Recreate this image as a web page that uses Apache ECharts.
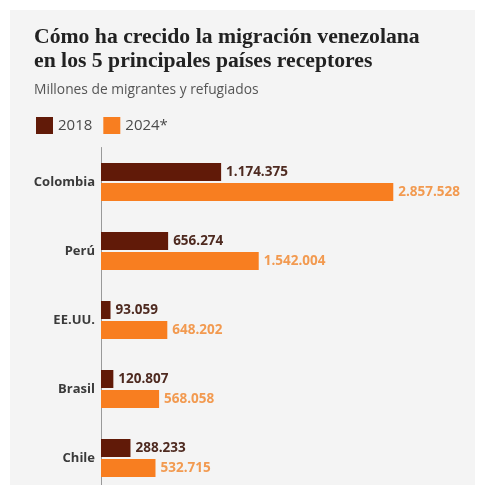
<!DOCTYPE html>
<html>
<head>
<meta charset="utf-8">
<script src="https://cdn.jsdelivr.net/npm/echarts@6/dist/echarts.min.js"></script>
<style>
html,body{margin:0;padding:0;background:#fff;}
#c{width:479px;height:485px;}
</style>
</head>
<body>
<div id="c"></div>
<script>
const categories = ['Colombia', 'Perú', 'EE.UU.', 'Brasil', 'Chile'];
const values2018 = [1174375, 656274, 93059, 120807, 288233];
const values2024 = [2857528, 1542004, 648202, 568058, 532715];
const seriesNames = ['2018', '2024*'];

function fmt(v) {
  return String(v).replace(/\B(?=(\d{3})+(?!\d))/g, '.');
}

const chart = echarts.init(document.getElementById('c'), null, {renderer: 'canvas'});
chart.setOption({
  backgroundColor: '#ffffff',
  animation: false,
  graphic: [{
    type: 'rect', z: -10, silent: true,
    shape: {x: 10, y: 10, width: 465, height: 480},
    style: {fill: '#f4f4f4'}
  }],
  title: [{
    text: 'Cómo ha crecido la migración venezolana\nen los 5 principales países receptores',
    left: 34, top: 26, padding: 0,
    textStyle: {fontFamily: 'Liberation Serif', fontWeight: 'bold', fontSize: 21.7, lineHeight: 23.5, color: '#222'}
  }, {
    text: 'Millones de migrantes y refugiados',
    left: 34, top: 83, padding: 0,
    textStyle: {fontFamily: 'Open Sans', fontWeight: 'normal', fontSize: 13.8, color: '#555'}
  }],
  legend: {
    data: seriesNames,
    left: 36, top: 117, padding: 0,
    icon: 'rect', itemWidth: 17, itemHeight: 17, itemGap: 11,
    textStyle: {fontFamily: 'Open Sans', fontSize: 15, color: '#4a4a4a'}
  },
  grid: {left: 101, top: 147.5, width: 358, height: 345, outerBoundsMode: 'none', containLabel: false},
  xAxis: {
    type: 'value', min: 0, max: 3500000, show: false
  },
  yAxis: {
    type: 'category', data: categories, inverse: true,
    axisLine: {show: true, lineStyle: {color: '#999', width: 1}},
    axisTick: {show: false},
    axisLabel: {fontFamily: 'Open Sans', fontWeight: 'bold', fontSize: 13, color: '#3a3a3a', margin: 6}
  },
  series: [{
    name: seriesNames[0], type: 'bar', data: values2018,
    barWidth: 18, barGap: '11%',
    itemStyle: {color: '#611a08'},
    label: {show: true, position: 'right', distance: 5, formatter: p => fmt(p.value),
      fontFamily: 'Open Sans', fontWeight: 'bold', fontSize: 13.5, color: '#4e2a20'}
  }, {
    name: seriesNames[1], type: 'bar', data: values2024,
    barWidth: 18,
    itemStyle: {color: '#f87e20'},
    label: {show: true, position: 'right', distance: 5, formatter: p => fmt(p.value),
      fontFamily: 'Open Sans', fontWeight: 'bold', fontSize: 13.5, color: '#f29a50'}
  }]
});
</script>
</body>
</html>
